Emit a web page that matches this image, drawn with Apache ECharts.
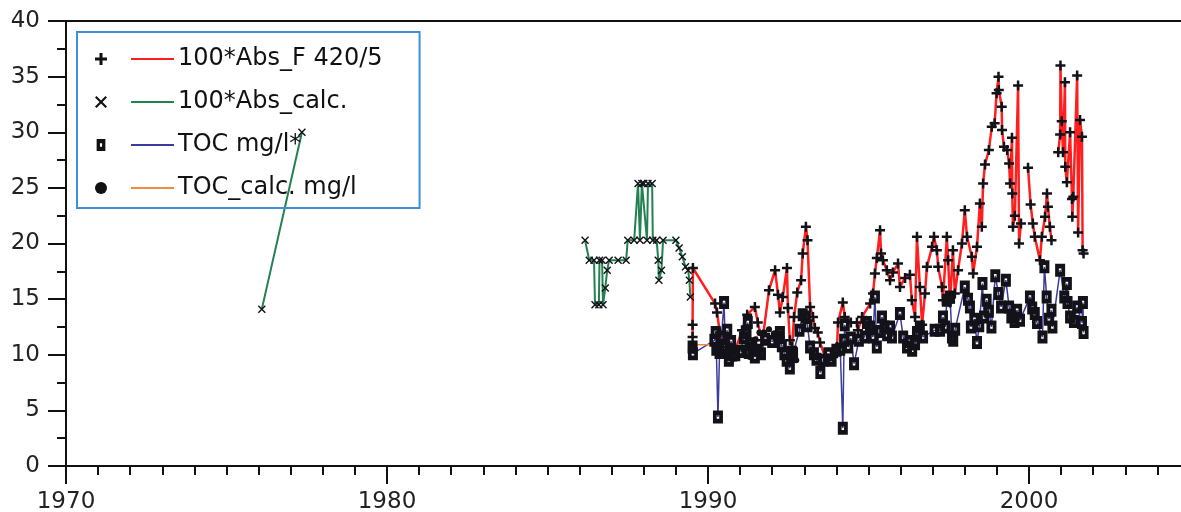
<!DOCTYPE html>
<html>
<head>
<meta charset="utf-8">
<script src="https://cdn.jsdelivr.net/npm/echarts/dist/echarts.min.js"></script>
<style>
  html, body { margin: 0; padding: 0; background: #fff; }
  #chart { width: 1181px; height: 512px; }
</style>
</head>
<body>
<div id="chart"></div>
<script>
// series names as in the legend
var seriesNames = ['100*Abs_F 420/5', '100*Abs_calc.', 'TOC mg/l*', 'TOC_calc. mg/l'];

// 100*Abs_F 420/5 (red)
var absFYears = [1989.52,1989.52,1989.53,1990.22,1990.28,1990.37,1990.6,1990.75,1990.78,1991.06,
  1991.22,1991.46,1991.55,1991.68,1991.72,1991.9,1992.09,1992.18,1992.24,1992.33,
  1992.46,1992.49,1992.55,1992.62,1992.68,1992.78,1992.9,1992.95,1993.05,1993.1,
  1993.18,1993.27,1993.33,1993.42,1993.49,1993.65,1993.74,1993.9,1994.02,1994.05,
  1994.2,1994.26,1994.45,1994.64,1994.67,1994.8,1995.05,1995.14,1995.2,1995.26,
  1995.36,1995.39,1995.45,1995.57,1995.67,1995.76,1995.92,1995.98,1996.14,1996.29,
  1996.35,1996.45,1996.51,1996.6,1996.67,1996.76,1996.82,1996.98,1997.04,1997.13,
  1997.17,1997.29,1997.32,1997.44,1997.48,1997.54,1997.63,1997.69,1997.79,1997.91,
  1998.0,1998.07,1998.22,1998.26,1998.38,1998.47,1998.53,1998.57,1998.63,1998.75,
  1998.84,1998.93,1998.99,1999.05,1999.06,1999.15,1999.16,1999.22,1999.32,1999.38,
  1999.41,1999.47,1999.48,1999.5,1999.56,1999.66,1999.69,1999.75,1999.86,1999.97,
  2000.05,2000.12,2000.18,2000.34,2000.4,2000.5,2000.56,2000.59,2000.65,2000.7,
  2000.8,2000.91,2000.97,2000.98,2001.02,2001.06,2001.12,2001.13,2001.18,2001.28,
  2001.34,2001.35,2001.38,2001.5,2001.53,2001.59,2001.65,2001.67,2001.7];
var absFValues = [11.6,12.7,17.8,14.6,13.8,12.0,10.7,9.5,9.8,12.2,
  13.6,14.3,12.9,11.3,11.8,15.8,17.6,15.4,13.8,15.2,
  17.8,14.2,11.3,10.7,13.4,15.6,16.7,19.1,21.5,20.3,
  14.3,13.4,12.4,12.0,11.1,9.8,9.5,9.8,10.7,12.9,
  14.7,13.4,12.9,12.9,12.2,13.4,14.6,15.5,17.3,18.7,
  21.2,19.1,18.5,17.6,16.7,17.4,18.2,16.1,16.9,17.2,
  14.9,13.4,20.6,16.1,12.7,15.5,17.9,19.7,20.6,19.4,
  17.9,16.1,14.9,20.6,18.5,14.7,19.4,15.5,17.6,20.0,
  23.0,20.6,18.8,17.3,19.7,23.6,21.5,25.4,27.1,28.4,
  30.5,30.8,33.5,35.0,33.8,32.3,30.2,28.7,28.4,27.2,
  25.4,29.5,24.5,21.5,22.5,34.2,20.0,21.8,null,26.8,
  23.5,21.8,20.6,18.5,20.6,22.4,24.5,23.3,21.5,20.3,
  null,28.2,29.8,36.0,31.0,28.2,34.5,26.9,25.5,30.0,
  24.0,22.4,24.2,35.1,21.0,31.1,29.6,19.4,19.1];

// 100*Abs_calc. (green)
var absCalcYears = [1976.1,1977.35,1981.0,
  1986.17,1986.3,1986.45,1986.48,1986.6,1986.62,1986.7,1986.73,1986.8,1986.86,
  1986.92,1987.2,1987.45,1987.5,1987.7,1987.82,1987.88,1987.94,1988.0,1988.1,
  1988.13,1988.26,1988.28,1988.4,1988.45,1988.47,1988.55,1988.6,1989.0,1989.1,
  1989.2,1989.3,1989.38,1989.42,1989.45];
var absCalcValues = [14.1,30.0,null,
  20.3,18.5,18.5,14.5,14.5,18.5,18.5,14.5,16.0,17.6,
  18.5,18.5,18.5,20.3,20.3,25.4,20.3,25.4,25.4,20.3,
  25.4,25.4,20.3,20.3,18.5,16.7,17.6,20.3,20.3,19.6,
  18.8,17.9,17.6,16.7,15.2];

// TOC mg/l* (navy)
var tocYears = [1989.52,1989.53,1990.2,1990.24,1990.26,1990.31,1990.36,1990.42,1990.5,1990.54,
  1990.6,1990.65,1990.68,1990.72,1990.85,1991.0,1991.12,1991.2,1991.24,1991.27,
  1991.3,1991.38,1991.46,1991.55,1991.65,1991.78,1992.0,1992.2,1992.24,1992.3,
  1992.38,1992.45,1992.55,1992.6,1992.65,1992.85,1992.95,1993.05,1993.1,1993.18,
  1993.3,1993.38,1993.5,1993.6,1993.75,1993.85,1994.0,1994.12,1994.2,1994.24,
  1994.26,1994.37,1994.45,1994.55,1994.7,1994.88,1994.95,1995.05,1995.14,1995.2,
  1995.26,1995.35,1995.42,1995.5,1995.58,1995.67,1995.73,1995.98,1996.08,1996.2,
  1996.28,1996.36,1996.45,1996.51,1996.6,1996.7,1997.06,1997.23,1997.32,1997.39,
  1997.44,1997.54,1997.6,1997.64,1997.7,1998.0,1998.1,1998.16,1998.19,1998.3,
  1998.38,1998.45,1998.55,1998.6,1998.68,1998.75,1998.83,1998.95,1999.05,1999.13,
  1999.28,1999.38,1999.45,1999.55,1999.63,1999.72,2000.03,2000.1,2000.18,2000.25,
  2000.42,2000.48,2000.55,2000.62,2000.7,2000.73,2000.97,2001.1,2001.18,2001.2,
  2001.28,2001.4,2001.5,2001.65,2001.68,2001.7];
var tocValues = [10.7,10.1,11.3,12.0,10.5,4.4,10.2,11.6,14.7,10.7,
  12.2,9.5,10.4,11.2,10.0,10.3,11.5,12.0,12.9,10.2,
  11.0,10.6,9.8,10.4,10.1,11.4,11.2,11.6,12.0,10.8,
  10.1,9.5,8.8,9.9,10.1,12.2,13.6,13.4,12.6,10.7,
  10.1,9.6,8.4,9.5,10.1,9.5,10.4,10.5,3.4,11.3,
  12.7,10.7,11.5,9.2,11.3,11.6,12.9,12.5,11.6,15.2,
  10.7,12.1,13.4,12.5,11.8,12.5,11.6,13.7,11.6,10.7,
  11.2,10.4,11.0,12.0,12.5,11.6,12.2,12.2,13.4,12.5,
  14.9,15.2,11.6,11.3,12.3,16.1,15.0,14.3,12.5,13.2,
  11.1,12.6,16.4,13.4,14.9,13.9,12.5,17.1,15.5,14.3,
  16.7,14.3,13.4,13.0,14.0,13.1,15.2,14.2,13.7,12.9,
  11.6,17.9,15.2,13.2,14.0,12.5,17.6,15.2,16.4,14.7,
  13.4,13.0,14.3,12.9,14.7,12.0];

// TOC_calc. mg/l (orange)
var tocCalcYears = [1989.52,1990.22,1990.3,1990.45,1990.62,1990.72,1990.9,1991.1,1991.3,1991.4,
  1991.48,1991.6,1991.75,1991.9,1992.05,1992.15,1992.3,1992.45,1992.55,1992.65,1992.75];
var tocCalcValues = [10.9,10.9,10.6,10.2,9.8,10.5,10.2,10.5,9.8,10.9,
  11.4,12.0,12.0,12.3,11.9,11.2,11.5,10.5,9.8,10.2,9.5];

// axis ticks (the 2010 end lies past the right edge of the picture)
var xMin = 1970, xMax = 2010, xStep = 10;
var yMin = 0, yMax = 40, yStep = 5;

var lineColors = ['#ff1f1f', '#23804f', '#3c3c9e', '#f08a3c'];
var markers = [
  'path://M3,0H5V3H8V5H5V8H3V5H0V3H3Z',
  'path://M0,1L1,0L4,3L7,0L8,1L5,4L8,7L7,8L4,5L1,8L0,7L3,4Z',
  'path://M0,0H8V11H0Z M3,4V7H5V4Z',
  'circle'
];
var markerSizes = [10, 8, [10, 13], 6];
var lineWidths = [2.5, 2, 1.5, 1.5];

function zip(xs, ys) {
  return xs.map(function(x, i) { return [x, ys[i]]; });
}
var seriesData = [
  zip(absFYears, absFValues),
  zip(absCalcYears, absCalcValues),
  zip(tocYears, tocValues),
  zip(tocCalcYears, tocCalcValues)
];

var font = 'DejaVu Sans';
var rich = {
  sp: { width: 19 },
  t: { fontSize: 24, fontFamily: font, color: '#111', lineHeight: 26, padding: [0, 0, 0, 4] }
};
lineColors.forEach(function(c, i) {
  rich['l' + i] = { width: 43, height: 2, backgroundColor: c };
});

var chart = echarts.init(document.getElementById('chart'));
var option = {
  animation: false,
  backgroundColor: '#fff',
  grid: { left: 66, top: 21, right: -169, bottom: 46, outerBoundsMode: 'none', containLabel: false },
  legend: {
    left: 77,
    top: 32,
    orient: 'vertical',
    selectedMode: false,
    padding: [15, 37, 8, 18],
    itemGap: 19,
    itemWidth: 12,
    itemHeight: 12,
    borderColor: '#3d8fd9',
    borderWidth: 2,
    backgroundColor: 'transparent',
    textStyle: { fontSize: 24, fontFamily: font, color: '#111', rich: rich },
    formatter: function(name) {
      var i = seriesNames.indexOf(name);
      return '{sp|}{l' + i + '|}{t|' + name + '}';
    },
    data: seriesNames.map(function(n, i) {
      return { name: n, icon: markers[i], itemStyle: { color: '#111', borderWidth: 0 } };
    })
  },
  xAxis: [{
    type: 'value',
    min: xMin,
    max: xMax,
    interval: xStep,
    axisLine: { lineStyle: { color: '#111', width: 2 } },
    axisTick: { length: 18, lineStyle: { color: '#111', width: 2 } },
    minorTick: { show: true, splitNumber: 10, length: 9, lineStyle: { color: '#111', width: 2 } },
    splitLine: { show: false },
    axisLabel: {
      margin: 25,
      fontSize: 23,
      fontFamily: font,
      color: '#222',
      formatter: function(v) { return v < xMax ? String(v) : ''; }
    }
  }, {
    type: 'value',
    position: 'top',
    min: xMin,
    max: xMax,
    axisLine: { show: true, onZero: false, lineStyle: { color: '#111', width: 2 } },
    axisTick: { show: false },
    axisLabel: { show: false },
    splitLine: { show: false }
  }],
  yAxis: {
    type: 'value',
    min: yMin,
    max: yMax,
    interval: yStep,
    axisLine: { show: true, lineStyle: { color: '#111', width: 2 } },
    axisTick: { show: true, length: 18, lineStyle: { color: '#111', width: 2 } },
    minorTick: { show: true, splitNumber: 2, length: 9, lineStyle: { color: '#111', width: 2 } },
    splitLine: { show: false },
    axisLabel: { margin: 26, fontSize: 23, fontFamily: font, color: '#222' }
  },
  series: seriesNames.map(function(n, i) {
    return {
      name: n,
      type: 'line',
      data: seriesData[i],
      showAllSymbol: true,
      symbol: markers[i],
      symbolSize: markerSizes[i],
      itemStyle: { color: '#121218' },
      lineStyle: { color: lineColors[i], width: lineWidths[i] },
      connectNulls: false
    };
  })
};
chart.setOption(option);
</script>
</body>
</html>
